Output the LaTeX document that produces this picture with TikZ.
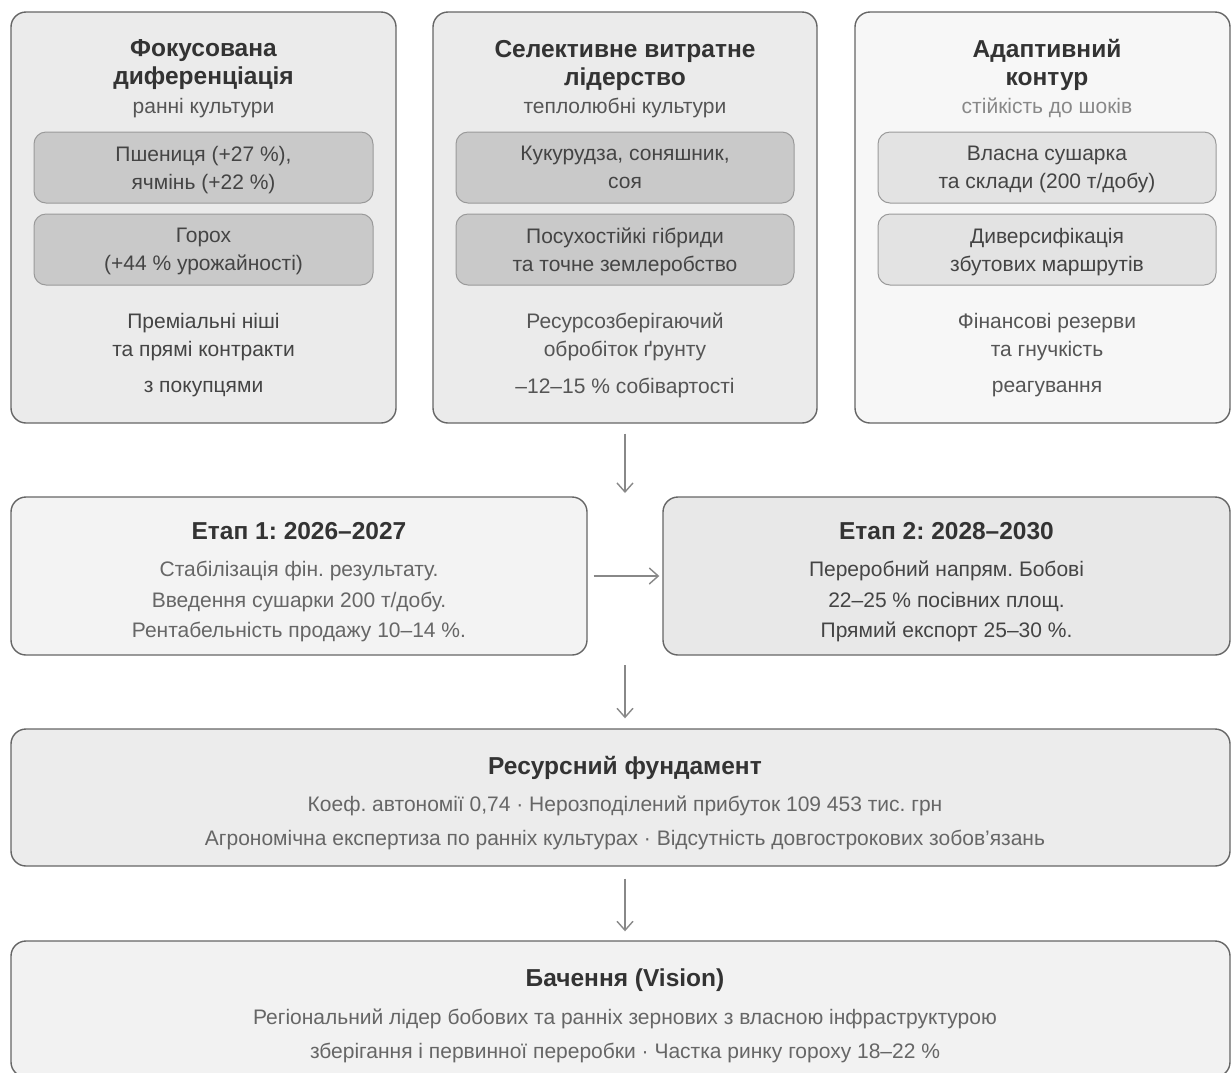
\documentclass[tikz,border=0pt]{standalone}
\usepackage{fontspec}
\setmainfont{Liberation Sans}
\usetikzlibrary{arrows.meta}
\definecolor{bordc}{HTML}{666666}
\definecolor{innbord}{HTML}{9A9A9A}
\definecolor{fillA}{HTML}{EBEBEB}
\definecolor{fillB}{HTML}{F7F7F7}
\definecolor{innA}{HTML}{C9C9C9}
\definecolor{innB}{HTML}{E3E3E3}
\definecolor{stA}{HTML}{F3F3F3}
\definecolor{stB}{HTML}{E8E8E8}
\definecolor{resf}{HTML}{ECECEC}
\definecolor{visf}{HTML}{F2F2F2}
\definecolor{titc}{HTML}{333333}
\definecolor{subc}{HTML}{555555}
\definecolor{subl}{HTML}{888888}
\definecolor{bodc}{HTML}{444444}
\definecolor{bodl}{HTML}{666666}
\definecolor{arrc}{HTML}{888888}
\frenchspacing
\begin{document}
\begin{tikzpicture}[x=1pt,y=-1pt,
  outerbox/.style={draw=bordc, line width=1.4pt, rounded corners=15pt, inner sep=0pt},
  innerbox/.style={draw=innbord, line width=1pt, rounded corners=12pt, inner sep=0pt, minimum width=338pt, minimum height=71pt, align=center, text=bodc, text depth=0pt, font=\fontsize{21}{28}\selectfont},
  ttl/.style={align=center, text=titc, font=\fontsize{24.5}{28}\selectfont\bfseries, inner sep=0pt},
  subt/.style={align=center, text=subc, font=\fontsize{21}{28}\selectfont, inner sep=0pt},
  bodyt/.style={align=center, text=bodc, font=\fontsize{21}{28}\selectfont, inner sep=0pt},
  conn/.style={draw=arrc, line width=1.4pt, -{Straight Barb[length=9pt,width=16pt,line width=1.4pt]}}
]
\useasboundingbox (0,0) rectangle (1231,1072);

% top boxes
\node[outerbox, fill=fillA, minimum width=385pt, minimum height=411pt] (b1) at (203.5,217.5) {};
\node[outerbox, fill=fillA, minimum width=384pt, minimum height=411pt] (b2) at (625,217.5) {};
\node[outerbox, fill=fillB, minimum width=375pt, minimum height=411pt] (b3) at (1042.5,217.5) {};

% box 1
\node[ttl] (t1) at (203.5,65) {Фокусована\\диференціація};
\node[subt] (s1) at (203.5,108) {ранні культури};
\node[innerbox, fill=innA, minimum width=339pt] (i11) at (203.5,167.5) {Пшениця (+27 \%),\\ячмінь (+22 \%)};
\node[innerbox, fill=innA, minimum width=339pt] (i12) at (203.5,249.5) {Горох\\(+44 \% урожайності)};
\node[bodyt] (p1) at (203.5,337) {Преміальні ніші\\та прямі контракти};
\node[bodyt] (q1) at (203.5,389) {з покупцями};

% box 2
\node[ttl] (t2) at (625,65) {Селективне витратне\\лідерство};
\node[subt] (s2) at (625,108) {теплолюбні культури};
\node[innerbox, fill=innA] (i21) at (625,167.5) {Кукурудза, соняшник,\\соя};
\node[innerbox, fill=innA] (i22) at (625,249.5) {Посухостійкі гібриди\\та точне землеробство};
\node[bodyt, text=subc] (p2) at (625,337) {Ресурсозберігаючий\\обробіток ґрунту};
\node[bodyt, text=subc] (q2) at (625,388) {–12–15 \% собівартості};

% box 3
\node[ttl] (t3) at (1047,65) {Адаптивний\\контур};
\node[subt, text=subl] (s3) at (1047,108) {стійкість до шоків};
\node[innerbox, fill=innB] (i31) at (1047,167.5) {Власна сушарка\\та склади (200 т/добу)};
\node[innerbox, fill=innB] (i32) at (1047,249.5) {Диверсифікація\\збутових маршрутів};
\node[bodyt, text=subc] (p3) at (1047,337) {Фінансові резерви\\та гнучкість};
\node[bodyt, text=subc] (q3) at (1047,389) {реагування};

% stages
\node[outerbox, fill=stA, minimum width=576pt, minimum height=158pt] (e1) at (299,576) {};
\node[outerbox, fill=stB, minimum width=567pt, minimum height=158pt] (e2) at (946.5,576) {};
\node[ttl] (et1) at (299,531) {Етап 1: 2026–2027};
\node[bodyt, text=bodl, font=\fontsize{21}{30.5}\selectfont] (eb1) at (299,601.5) {Стабілізація фін. результату.\\Введення сушарки 200 т/добу.\\Рентабельність продажу 10–14 \%.};
\node[ttl] (et2) at (946.5,531) {Етап 2: 2028–2030};
\node[bodyt, font=\fontsize{21}{30.5}\selectfont] (eb2) at (946.5,601.5) {Переробний напрям. Бобові\\22–25 \% посівних площ.\\Прямий експорт 25–30 \%.};

% resource
\node[outerbox, fill=resf, minimum width=1219pt, minimum height=137pt] (r) at (620.5,797.5) {};
\node[ttl] (rt) at (625,768) {Ресурсний фундамент};
\node[bodyt, text=bodl, font=\fontsize{21}{34}\selectfont] (rb) at (625,823) {Коеф. автономії 0,74 · Нерозподілений прибуток 109 453 тис. грн\\Агрономічна експертиза по ранніх культурах · Відсутність довгострокових зобов'язань};

% vision
\node[outerbox, fill=visf, minimum width=1219pt, minimum height=136pt] (v) at (620.5,1009) {};
\node[ttl] (vt) at (625,980) {Бачення (Vision)};
\node[bodyt, text=bodl, font=\fontsize{21}{34}\selectfont] (vb) at (625,1036) {Регіональний лідер бобових та ранніх зернових з власною інфраструктурою\\зберігання і первинної переробки · Частка ринку гороху 18–22 \%};

% connectors
\coordinate (a1e) at (625,493);
\coordinate (a2s) at (625,665);
\draw[conn, shorten <=10pt] (b2.south) -- (a1e);
\draw[conn, shorten <=6pt, shorten >=3pt] (e1.east) -- (e2.west);
\draw[conn, shorten >=10pt] (a2s) -- (r.north -| a2s);
\draw[conn, shorten <=12pt, shorten >=9pt] (r.south -| a2s) -- (v.north -| a2s);
\end{tikzpicture}
\end{document}
